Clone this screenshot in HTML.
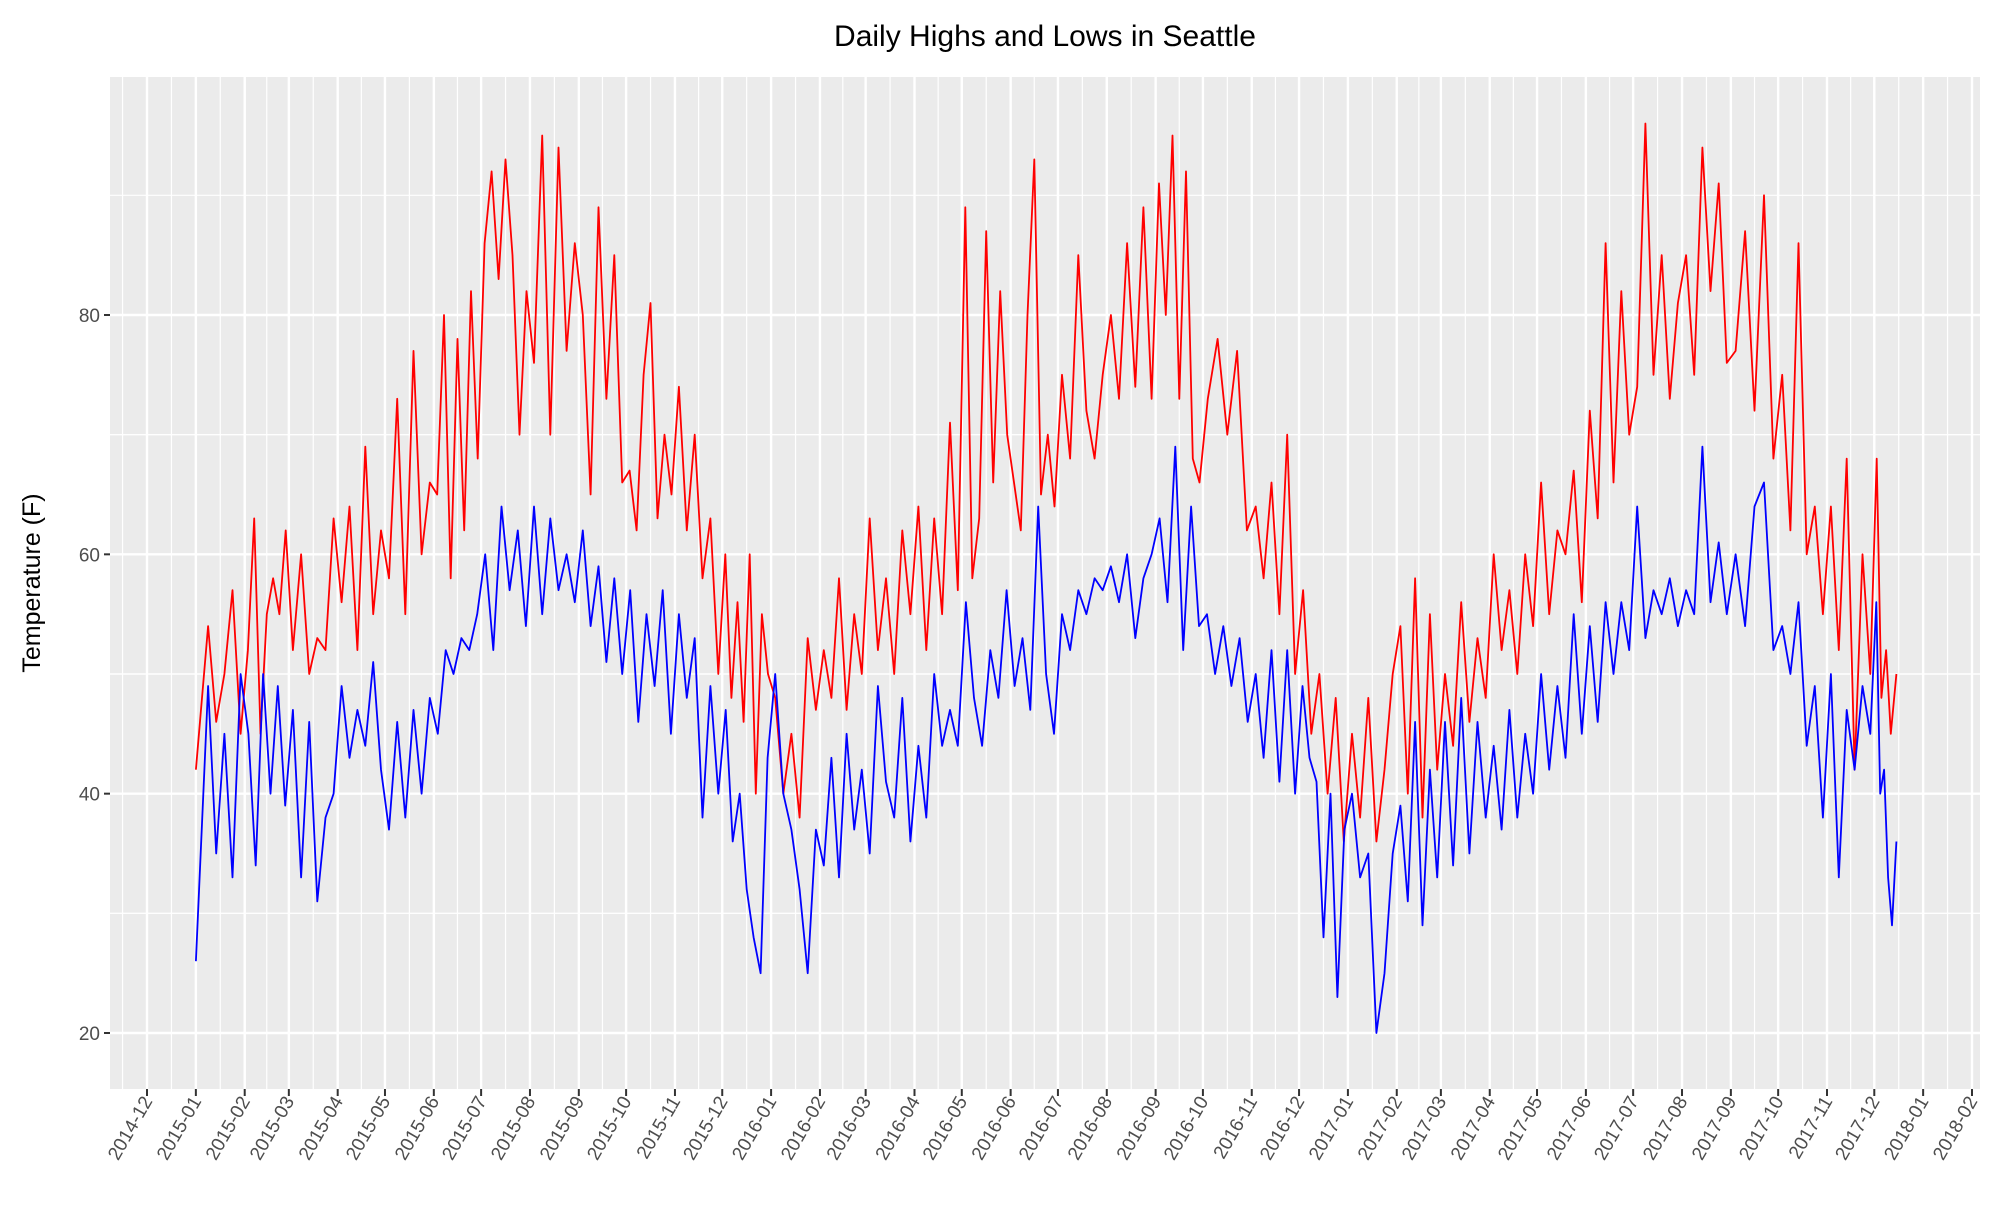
<!DOCTYPE html>
<html><head><meta charset="utf-8"><style>
html,body{margin:0;padding:0;background:#fff;}
svg text{font-family:"Liberation Sans",sans-serif;}
</style></head><body>
<svg id="chart" width="2000" height="1200" xmlns="http://www.w3.org/2000/svg">
<rect x="0" y="0" width="2000" height="1200" fill="#fff"/>
<text x="1045" y="46" font-size="30" text-anchor="middle" fill="#000">Daily Highs and Lows in Seattle</text>
<text transform="translate(40,583) rotate(-90)" font-size="25" text-anchor="middle" fill="#000">Temperature (F)</text>
<g id="panel"></g>
</svg>
<script>
const months = ["2015-01","2015-02","2015-03","2015-04","2015-05","2015-06","2015-07","2015-08","2015-09","2015-10","2015-11","2015-12",
"2016-01","2016-02","2016-03","2016-04","2016-05","2016-06","2016-07","2016-08","2016-09","2016-10","2016-11","2016-12",
"2017-01","2017-02","2017-03","2017-04","2017-05","2017-06","2017-07","2017-08","2017-09","2017-10","2017-11","2017-12"];
const highs = [
[42,54,46,50,57,45],[52,63,45,55,58,55,62],[52,60,50,53,52,63],[56,64,52,69,55,62],[58,73,55,77,60,66],[65,80,58,78,62,82,68],
[86,92,83,93,85,70,82],[76,95,70,94,77,86],[80,65,89,73,85,66],[67,62,75,81,63,70,65],[74,62,70,58,63,50],[60,48,56,46,60,40,55,50],
[48,40,45,38,53,47],[52,48,58,47,55,50],[63,52,58,50,62,55],[64,52,63,55,71,57],[89,58,63,87,66,82,70],[66,62,80,93,65,70,64],
[75,68,85,72,68,75],[80,73,86,74,89,73],[91,80,95,73,92,68,66],[73,78,70,77,62],[64,58,66,55,70,50],[57,45,50,40,48,36],
[45,38,48,36,42,50],[54,40,58,38,55,42],[50,44,56,46,53,48],[60,52,57,50,60,54],[66,55,62,60,67,56],[72,63,86,66,82,70],
[74,96,75,85,73,81],[85,75,94,82,91,76],[77,87,72,90,68],[75,62,86,60,64,55],[64,52,68,42,60,50],[68,48,52,45,50]];
const lows = [
[26,49,35,45,33,50],[45,34,50,40,49,39],[47,33,46,31,38,40],[49,43,47,44,51,42],[37,46,38,47,40,48],[45,52,50,53,52,55],
[60,52,64,57,62,54],[64,55,63,57,60,56],[62,54,59,51,58,50],[57,46,55,49,57,45],[55,48,53,38,49,40],[47,36,40,32,28,25,43],
[50,40,37,32,25,37],[34,43,33,45,37,42],[35,49,41,38,48,36],[44,38,50,44,47,44],[56,48,44,52,48,57],[49,53,47,64,50,45],
[55,52,57,55,58,57],[59,56,60,53,58,60],[63,56,69,52,64,54],[55,50,54,49,53,46],[50,43,52,41,52,40],[49,43,41,28,40,23,37],
[40,33,35,20,25,35],[39,31,46,29,42,33],[46,34,48,35,46,38],[44,37,47,38,45,40],[50,42,49,43,55,45],[54,46,56,50,56,52],
[64,53,57,55,58,54],[57,55,69,56,61,55],[60,54,64,66,52],[54,50,56,44,49,38],[50,33,47,42,49,45],[56,40,42,33,29,36]];
const tickLabels = ["2014-12","2015-01","2015-02","2015-03","2015-04","2015-05","2015-06","2015-07","2015-08","2015-09","2015-10","2015-11","2015-12",
"2016-01","2016-02","2016-03","2016-04","2016-05","2016-06","2016-07","2016-08","2016-09","2016-10","2016-11","2016-12",
"2017-01","2017-02","2017-03","2017-04","2017-05","2017-06","2017-07","2017-08","2017-09","2017-10","2017-11","2017-12","2018-01","2018-02"];
const yTicks = [20,40,60,80];
const lastDay = "2017-12-15";

const NS = "http://www.w3.org/2000/svg";
const P = {l:110, r:1980, t:77, b:1089};
const d0 = Date.UTC(2014,11,1);
const pxPerDay = (1972-147)/1158;
function dayOf(s){const [y,m,d]=s.split("-").map(Number);return (Date.UTC(y,m-1,d||1)-d0)/86400000;}
function x(day){return 147 + day*pxPerDay;}
function y(v){return 1033 - (v-20)*(1033-315)/60;}
const g = document.getElementById("panel");
function mk(tag, attrs){const e=document.createElementNS(NS,tag);for(const k in attrs)e.setAttribute(k,attrs[k]);g.appendChild(e);return e;}

const bg = mk("rect",{x:P.l,y:P.t,width:P.r-P.l,height:P.b-P.t,fill:"#ebebeb"});


for(let i=0;i<yTicks.length;i++){
  [yTicks[i]-10, yTicks[i]+10].forEach(v=>{
    const yy=y(v); if(yy<P.t||yy>P.b) return;
    const ln=mk("line",{x1:P.l,x2:P.r,y1:yy,y2:yy,stroke:"#fff","stroke-width":1.2});
    
    
  });
}
for(let i=0;i<tickLabels.length-1;i++){
  const xm=(x(dayOf(tickLabels[i]))+x(dayOf(tickLabels[i+1])))/2;
  const ln=mk("line",{x1:xm,x2:xm,y1:P.t,y2:P.b,stroke:"#fff","stroke-width":1.2});
  
  
}
{const xm=x(dayOf(tickLabels[0]))-(x(dayOf(tickLabels[1]))-x(dayOf(tickLabels[0])))/2;
 const ln=mk("line",{x1:xm,x2:xm,y1:P.t,y2:P.b,stroke:"#fff","stroke-width":1.2});
 
 }
yTicks.forEach(v=>{
  const yy=y(v);
  const ln=mk("line",{x1:P.l,x2:P.r,y1:yy,y2:yy,stroke:"#fff","stroke-width":2.4});
  
  
  const tk=mk("line",{x1:P.l-6,x2:P.l,y1:yy,y2:yy,stroke:"#333","stroke-width":2});
  
  
  const t=mk("text",{x:P.l-10,y:yy+7,"font-size":19,"text-anchor":"end",fill:"#4d4d4d"});
  t.textContent=v;
  
  
});
tickLabels.forEach(s=>{
  const xx=x(dayOf(s));
  const ln=mk("line",{x1:xx,x2:xx,y1:P.t,y2:P.b,stroke:"#fff","stroke-width":2.4});
  
  
  const tk=mk("line",{x1:xx,x2:xx,y1:P.b,y2:P.b+7,stroke:"#333","stroke-width":2});
  
  
  const t=mk("text",{x:xx+6,y:P.b+12,"font-size":19,"text-anchor":"end",fill:"#4d4d4d",transform:`rotate(-60 ${xx+6} ${P.b+12})`});
  t.textContent=s;
  
  
});
function seriesPoints(data){
  const pts=[];
  for(let m=0;m<months.length;m++){
    const start=dayOf(months[m]);
    const end = m+1<months.length ? dayOf(months[m+1]) : dayOf(lastDay)+1;
    const vals=data[m], k=vals.length, len=end-start;
    for(let i=0;i<k;i++){
      const d = (m===0&&i===0) ? start : (m===months.length-1&&i===k-1) ? end-1 : start+(i+0.5)*len/k;
      pts.push(x(d).toFixed(1)+","+y(vals[i]).toFixed(1));
    }
  }
  return pts.join(" ");
}
const hl=mk("polyline",{points:seriesPoints(highs),fill:"none",stroke:"#ff0000","stroke-width":1.8,"stroke-linejoin":"round"});


const ll=mk("polyline",{points:seriesPoints(lows),fill:"none",stroke:"#0000ff","stroke-width":1.8,"stroke-linejoin":"round"});


</script>
</body></html>
